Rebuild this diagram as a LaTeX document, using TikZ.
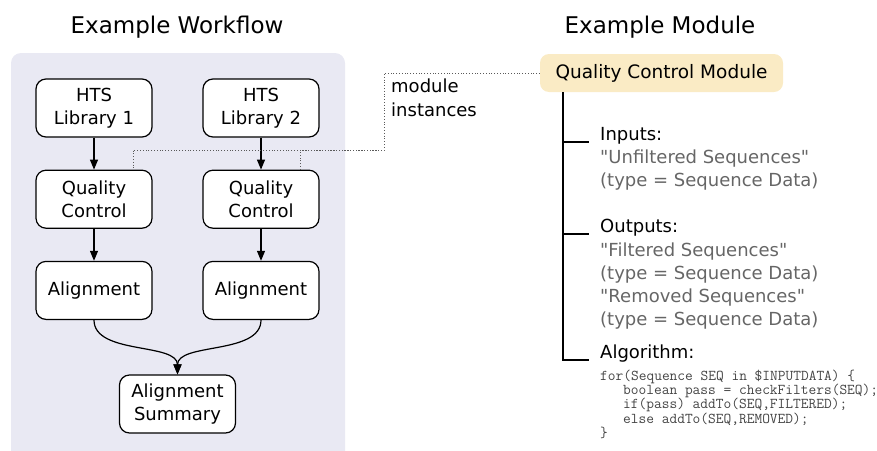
\documentclass[tikz,border=0pt]{standalone}
\usepackage{fontspec}
\setmainfont{DejaVu Sans}
\usetikzlibrary{arrows.meta,positioning}
\definecolor{PanelLav}{HTML}{E9E9F3}
\definecolor{ModGold}{HTML}{FAEBC5}
\definecolor{SpecGray}{HTML}{666666}
\definecolor{CodeGray}{HTML}{444444}
\definecolor{LinkGray}{HTML}{5A5A5A}

\begin{document}
\begin{tikzpicture}[x=1pt,y=-1pt,
  wfbox/.style={draw,line width=1.2pt,fill=white,rounded corners=10pt,
    minimum width=116pt,minimum height=58pt,inner sep=0pt,align=center,
    font=\fontsize{18}{23}\selectfont},
  flow/.style={-{Triangle[length=10pt,width=8pt]},line width=1.2pt},
  link/.style={LinkGray,dotted,line width=0.8pt},
  tree/.style={line width=1.2pt},
  title/.style={anchor=base,font=\fontsize{23}{28}\selectfont},
  spec/.style={anchor=base west,inner sep=0pt,font=\fontsize{18}{23}\selectfont},
  code/.style={anchor=base west,inner sep=0pt,text=CodeGray,font=\fontsize{15}{14}\ttfamily},
]
\useasboundingbox (0,0) rectangle (877,450);
\fill[PanelLav,rounded corners=10pt] (11,53) rectangle (345,470);

\node[title] (wftitle) at (177,33) {Example Workflow};
\node[title] (modtitle) at (660,33) {Example Module};

% workflow
\node[wfbox] (lib1) at (94,108) {HTS\\Library 1};
\node[wfbox] (lib2) at (261,108) {HTS\\Library 2};
\node[wfbox,below=32pt of lib1] (qc1) {Quality\\Control};
\node[wfbox,below=32pt of lib2] (qc2) {Quality\\Control};
\node[wfbox,below=32pt of qc1] (aln1) {Alignment};
\node[wfbox,below=32pt of qc2] (aln2) {Alignment};
\node[wfbox] (summ) at (177.5,404) {Alignment\\Summary};

\draw[flow] (lib1) -- (qc1);
\draw[flow] (lib2) -- (qc2);
\draw[flow] (qc1) -- (aln1);
\draw[flow] (qc2) -- (aln2);
\draw[flow] (aln1.south) .. controls +(0,35) and +(0,-32) .. (summ.north);
\draw[flow] (aln2.south) .. controls +(0,35) and +(0,-32) .. (summ.north);

% module
\node[fill=ModGold,rounded corners=9pt,minimum width=243pt,minimum height=38pt,
  inner sep=0pt,font=\fontsize{18.5}{23}\selectfont] (qcmod) at (661.5,73) {Quality Control Module};

\coordinate (knee) at (384,150);
\draw[link] (qcmod.west) -| (knee) -| ([xshift=39pt]qc1.north);
\draw[link] ([xshift=39pt]qc2.north) |- (knee);
\node[spec] (inst1) at (391,92) {module};
\node[spec] (inst2) at (391,116) {instances};

\node[spec] (inputs) at (600,140) {Inputs:};
\node[spec] (outputs) at (600,232) {Outputs:};
\node[spec] (algo) at (600,358) {Algorithm:};
\foreach \i/\y/\t in {1/163/{\textquotedbl Unfiltered Sequences\textquotedbl},2/186/{(type = Sequence Data)},
    3/256/{\textquotedbl Filtered Sequences\textquotedbl},4/279/{(type = Sequence Data)},
    5/302/{\textquotedbl Removed Sequences\textquotedbl},6/325/{(type = Sequence Data)}}
  \node[spec,text=SpecGray] (io\i) at (600,\y) {\t};

\foreach \i/\x/\y/\t in {1/600/380/{for(Sequence SEQ in \$INPUTDATA) \{},
    2/623/394/{boolean pass = checkFilters(SEQ);},
    3/623/408/{if(pass) addTo(SEQ,FILTERED);},
    4/623/423/{else addTo(SEQ,REMOVED);},
    5/600/437/{\}}}
  \node[code] (code\i) at (\x,\y) {\t};

\coordinate (treetop) at ([xshift=-98.5pt]qcmod.south);
\foreach \h in {inputs,outputs,algo}
  \coordinate (\h-tip) at ([xshift=-11pt,yshift=-2pt]\h.base west);
\draw[tree] (treetop |- inputs-tip) -- (inputs-tip);
\draw[tree] (treetop |- outputs-tip) -- (outputs-tip);
\draw[tree] (treetop) |- (algo-tip);
\end{tikzpicture}
\end{document}
